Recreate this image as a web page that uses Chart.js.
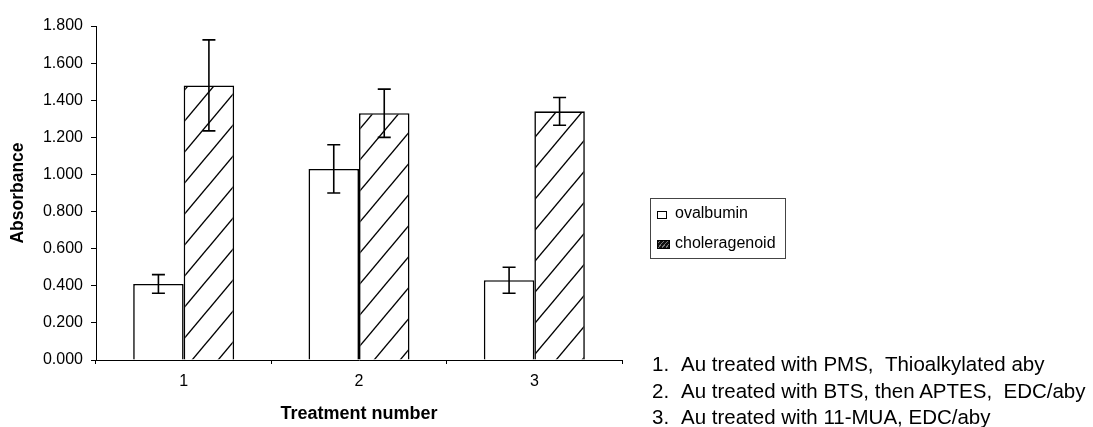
<!DOCTYPE html>
<html>
<head>
<meta charset="utf-8">
<script src="https://cdn.jsdelivr.net/npm/chart.js@4"></script>
<style>
  body { margin: 0; background: #fff; font-family: "Liberation Sans", Arial, sans-serif; }
  #wrap { position: relative; width: 1093px; height: 427px; overflow: hidden; }
  #myChart { position: absolute; left: 0; top: 0; }
  .legend { position: absolute; left: 650px; top: 198px; width: 136px; height: 61px;
    border: 1px solid #444; box-sizing: border-box; font-size: 16px; color: #000; }
  .legend .item { position: absolute; left: 6px; white-space: nowrap; }
  .legend .ico { display: inline-block; width: 18px; }
  .legend .box { display: inline-block; width: 10px; height: 8px; border: 1.5px solid #000;
    box-sizing: border-box; vertical-align: -1px; }
  .legend .hatch { width: 13px; height: 9px;
    background: repeating-linear-gradient(-50deg, #111 0 2px, #777 2px 3px); }
  .notes { position: absolute; left: 652px; top: 351px; font-size: 20.5px; line-height: 26.7px;
    color: #000; white-space: nowrap; }
  .notes span { display: inline-block; width: 29px; }
</style>
</head>
<body>
<div id="wrap">
  <canvas id="myChart" width="1093" height="427"></canvas>
  <div class="legend">
    <div class="item" style="top:5px"><span class="ico"><span class="box"></span></span>ovalbumin</div>
    <div class="item" style="top:35px"><span class="ico"><span class="box hatch"></span></span>choleragenoid</div>
  </div>
  <div class="notes">
    <div><span>1.</span>Au treated with PMS, &nbsp;Thioalkylated aby</div>
    <div><span>2.</span>Au treated with BTS, then APTES, &nbsp;EDC/aby</div>
    <div><span>3.</span>Au treated with 11-MUA, EDC/aby</div>
  </div>
</div>
<script>
// du lieu doc tu hinh
const labels = ["1", "2", "3"];
const ovalbumin = [0.41, 1.03, 0.43];
const ovalbuminErr = [0.05, 0.13, 0.07];
const choleragenoid = [1.48, 1.33, 1.34];
const choleragenoidErr = [0.245, 0.13, 0.075];

const ctx = document.getElementById("myChart").getContext("2d");

// tao hatch "/" cho cot choleragenoid
function makeHatch() {
  const w = 26, h = 31;
  const c = document.createElement("canvas");
  c.width = w;
  c.height = h;
  const p = c.getContext("2d");
  p.fillStyle = "#fff";
  p.fillRect(0, 0, w, h);
  p.strokeStyle = "#000";
  p.lineWidth = 1.4;
  for (let k = 0; k <= 2; k++) {
    p.beginPath();
    p.moveTo(-w, (k + 1) * h);
    p.lineTo(2 * w, (k - 2) * h);
    p.stroke();
  }
  return ctx.createPattern(c, "repeat");
}

// ve error bar bang scale cua chart
const errorBars = {
  id: "errorBars",
  afterDatasetsDraw(chart) {
    const c = chart.ctx;
    const y = chart.scales.y;
    chart.data.datasets.forEach((ds, i) => {
      const meta = chart.getDatasetMeta(i);
      meta.data.forEach((bar, j) => {
        const v = ds.data[j];
        const e = ds.errors[j];
        const top = y.getPixelForValue(v + e);
        const bot = y.getPixelForValue(v - e);
        c.save();
        c.strokeStyle = "#000";
        c.lineWidth = 1.6;
        c.beginPath();
        c.moveTo(bar.x, top);
        c.lineTo(bar.x, bot);
        c.moveTo(bar.x - 6.5, top);
        c.lineTo(bar.x + 6.5, top);
        c.moveTo(bar.x - 6.5, bot);
        c.lineTo(bar.x + 6.5, bot);
        c.stroke();
        c.restore();
      });
    });
  },
};

const font = "'Liberation Sans', Arial, sans-serif";

new Chart(ctx, {
  type: "bar",
  data: {
    labels: labels,
    datasets: [
      {
        label: "ovalbumin",
        data: ovalbumin,
        errors: ovalbuminErr,
        backgroundColor: "#fff",
        borderColor: "#000",
        borderWidth: 1.6,
        categoryPercentage: 0.576,
        barPercentage: 1.0,
      },
      {
        label: "choleragenoid",
        data: choleragenoid,
        errors: choleragenoidErr,
        backgroundColor: makeHatch(),
        borderColor: "#000",
        borderWidth: 1.6,
        categoryPercentage: 0.576,
        barPercentage: 1.0,
      },
    ],
  },
  options: {
    responsive: false,
    animation: false,
    layout: { padding: { top: 26, right: 471, left: 0, bottom: 0 } },
    plugins: {
      legend: { display: false },
      tooltip: { enabled: false },
    },
    scales: {
      x: {
        afterFit(scale) {
          scale.height = 67;
        },
        grid: { drawOnChartArea: false, drawTicks: true, tickLength: 4, color: "#000" },
        border: { display: true, color: "#000", width: 1 },
        ticks: { color: "#000", padding: 8, font: { family: font, size: 16 } },
        title: {
          display: true,
          text: "Treatment number",
          color: "#000",
          padding: { top: 2, bottom: 2 },
          font: { family: font, size: 18, weight: "bold" },
        },
      },
      y: {
        min: 0,
        max: 1.8,
        afterFit(scale) {
          scale.width = 96;
        },
        grid: { drawOnChartArea: false, drawTicks: true, tickLength: 5, color: "#000" },
        border: { display: true, color: "#000", width: 1 },
        ticks: {
          stepSize: 0.2,
          color: "#000",
          padding: 8,
          font: { family: font, size: 16 },
          callback: (v) => v.toFixed(3),
        },
        title: {
          display: true,
          text: "Absorbance",
          color: "#000",
          padding: { top: 8, bottom: 8 },
          font: { family: font, size: 17.5, weight: "bold" },
        },
      },
    },
  },
  plugins: [errorBars],
});
</script>
</body>
</html>
